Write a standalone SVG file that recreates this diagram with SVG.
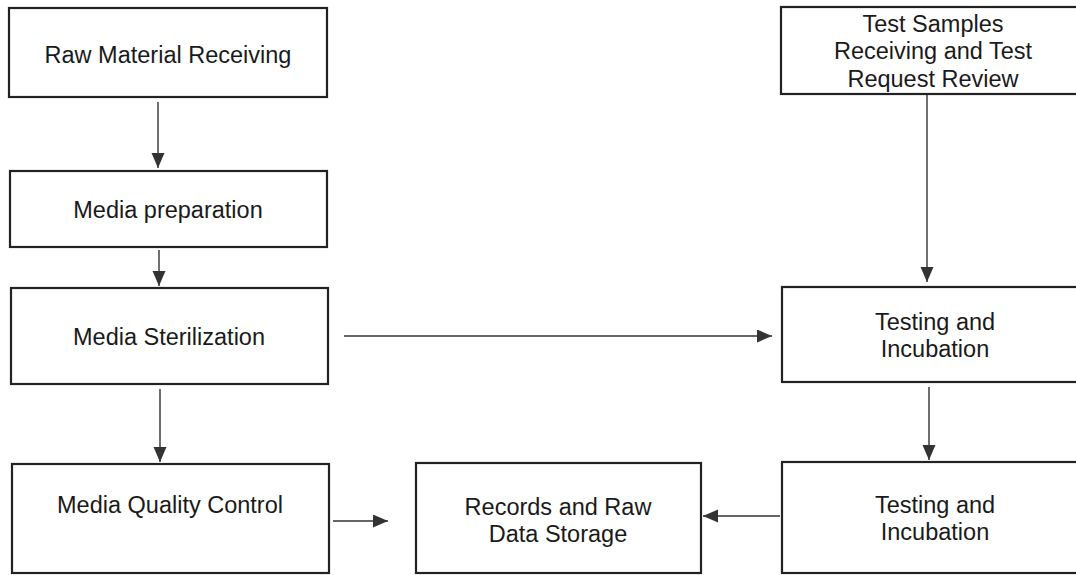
<svg xmlns="http://www.w3.org/2000/svg" width="1076" height="575" viewBox="0 0 1076 575">
<style>
.box{fill:#fff;stroke:#222;stroke-width:2.2}
.t{font-family:"Liberation Sans",Arial,sans-serif;font-size:23.5px;fill:#1a1a1a;text-anchor:middle}
.c{stroke:#333;stroke-width:1.4;fill:none;marker-end:url(#ah)}
</style>
<defs>
<marker id="ah" markerUnits="userSpaceOnUse" markerWidth="16" markerHeight="14" refX="15" refY="6.5" orient="auto">
<path d="M0,0 L15,6.5 L0,13 Z" fill="#333"/>
</marker>
</defs>
<rect width="1076" height="575" fill="#fff"/>
<g id="connectors">
<line class="c" x1="158" y1="102" x2="158" y2="168"/>
<line class="c" x1="159" y1="250" x2="159" y2="286"/>
<line class="c" x1="160" y1="389" x2="160" y2="462"/>
<line class="c" x1="344" y1="336" x2="772" y2="336"/>
<line class="c" x1="333" y1="521" x2="388" y2="521"/>
<line class="c" x1="927" y1="94" x2="927" y2="282"/>
<line class="c" x1="929" y1="387" x2="929" y2="460"/>
<line class="c" x1="780" y1="516" x2="703" y2="516"/>
</g>
<g id="raw-material-receiving">
<rect class="box" x="9" y="8" width="318" height="89"/>
<text class="t" x="168" y="63">Raw Material Receiving</text>
</g>
<g id="media-preparation">
<rect class="box" x="10" y="171" width="317" height="76"/>
<text class="t" x="168" y="218">Media preparation</text>
</g>
<g id="media-sterilization">
<rect class="box" x="11" y="288" width="317" height="96"/>
<text class="t" x="169" y="345">Media Sterilization</text>
</g>
<g id="media-quality-control">
<rect class="box" x="12" y="464" width="317" height="109"/>
<text class="t" x="170" y="513">Media Quality Control</text>
</g>
<g id="records-storage">
<rect class="box" x="416" y="463" width="285" height="110"/>
<text class="t" x="558" y="515">Records and Raw</text>
<text class="t" x="558" y="542">Data Storage</text>
</g>
<g id="test-samples">
<rect class="box" x="781" y="7" width="310" height="87"/>
<text class="t" x="933" y="32">Test Samples</text>
<text class="t" x="933" y="59">Receiving and Test</text>
<text class="t" x="933" y="87">Request Review</text>
</g>
<g id="testing-incubation-1">
<rect class="box" x="782" y="287" width="310" height="95"/>
<text class="t" x="935" y="330">Testing and</text>
<text class="t" x="935" y="357">Incubation</text>
</g>
<g id="testing-incubation-2">
<rect class="box" x="782" y="462" width="310" height="111"/>
<text class="t" x="935" y="513">Testing and</text>
<text class="t" x="935" y="540">Incubation</text>
</g>
</svg>
